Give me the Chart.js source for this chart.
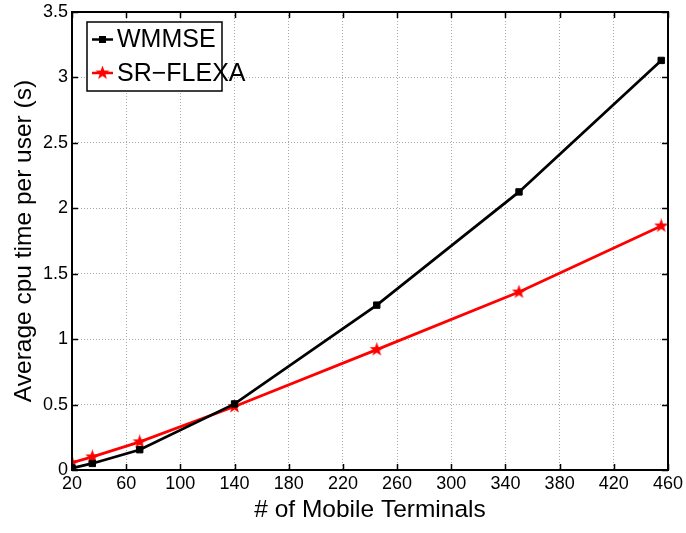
<!DOCTYPE html>
<html>
<head>
<meta charset="utf-8">
<script src="https://cdn.jsdelivr.net/npm/chart.js@4/dist/chart.umd.min.js"></script>
<style>
    html, body { margin: 0; padding: 0; background: #fff; }
    #wrap { width: 686px; height: 533px; }
</style>
</head>
<body>
<div id="wrap"><canvas id="cpu-chart" width="686" height="533"></canvas></div>
<script>
// --- datos ---
const terminals = [20, 35, 70, 140, 245, 350, 455];
const wmmseTime = [0.015, 0.05, 0.155, 0.505, 1.26, 2.125, 3.13];
const flexaTime = [0.055, 0.1, 0.215, 0.485, 0.92, 1.36, 1.865];
const seriesNames = ['WMMSE', 'SR\u2212FLEXA'];
const xTicks = [20, 60, 100, 140, 180, 220, 260, 300, 340, 380, 420, 460];
const yTicks = [0, 0.5, 1, 1.5, 2, 2.5, 3, 3.5];

const FONT = '"Liberation Sans", Arial, Helvetica, sans-serif';

// estrella rellena (pentagrama) como marcador
const makeStar = (color, size) => {
    const c = document.createElement('canvas');
    c.width = size; c.height = size;
    const g = c.getContext('2d');
    const cx = size / 2, cy = size / 2, outer = size / 2, inner = outer * 0.4;
    g.beginPath();
    for (let i = 0; i < 10; i++) {
        const r = i % 2 === 0 ? outer : inner;
        const a = -Math.PI / 2 + i * Math.PI / 5;
        const px = cx + r * Math.cos(a), py = cy + r * Math.sin(a);
        if (i === 0) g.moveTo(px, py); else g.lineTo(px, py);
    }
    g.closePath();
    g.fillStyle = color;
    g.fill();
    return c;
};
const starImg = makeStar('#ff0000', 15);

// marco estilo matlab con marcas hacia adentro + leyenda con recuadro
const framePlugin = {
    id: 'frame',
    afterDatasetsDraw(chart) {
        const { ctx, chartArea: a, scales } = chart;
        const tick = 6;
        ctx.save();
        ctx.strokeStyle = '#000';
        ctx.lineWidth = 1.5;
        ctx.beginPath();
        xTicks.forEach(v => {
            const px = Math.round(scales.x.getPixelForValue(v)) + 0.5;
            ctx.moveTo(px, a.bottom); ctx.lineTo(px, a.bottom - tick);
            ctx.moveTo(px, a.top); ctx.lineTo(px, a.top + tick);
        });
        yTicks.forEach(v => {
            const py = Math.round(scales.y.getPixelForValue(v)) + 0.5;
            ctx.moveTo(a.left, py); ctx.lineTo(a.left + tick, py);
            ctx.moveTo(a.right, py); ctx.lineTo(a.right - tick, py);
        });
        ctx.stroke();
        ctx.lineWidth = 2;
        ctx.strokeRect(a.left, a.top, a.right - a.left, a.bottom - a.top);
        ctx.restore();
    },
    afterDraw(chart) {
        const { ctx } = chart;
        const box = { x: 87, y: 22, w: 135, h: 69 };
        ctx.save();
        ctx.fillStyle = '#fff';
        ctx.fillRect(box.x, box.y, box.w, box.h);
        ctx.strokeStyle = '#000';
        ctx.lineWidth = 1.5;
        ctx.strokeRect(box.x, box.y, box.w, box.h);
        ctx.font = `25px ${FONT}`;
        ctx.textBaseline = 'middle';
        chart.data.datasets.forEach((ds, i) => {
            const y = 39.5 + i * 33.5;
            ctx.strokeStyle = ds.borderColor;
            ctx.lineWidth = 2.5;
            ctx.beginPath();
            ctx.moveTo(92, y); ctx.lineTo(113, y);
            ctx.stroke();
            if (ds.pointStyle === 'rect') {
                ctx.fillStyle = ds.borderColor;
                ctx.fillRect(99, y - 3.5, 7, 7);
            } else {
                ctx.drawImage(starImg, 102.5 - 7.5, y - 7.5);
            }
            ctx.fillStyle = '#000';
            ctx.fillText(ds.label, 117, y + 1);
        });
        ctx.restore();
    }
};

const ctx = document.getElementById('cpu-chart').getContext('2d');
new Chart(ctx, {
    type: 'line',
    data: {
        datasets: [
            {
                label: seriesNames[0],
                data: terminals.map((t, i) => ({ x: t, y: wmmseTime[i] })),
                borderColor: '#000000',
                backgroundColor: '#000000',
                borderWidth: 2.75,
                pointStyle: 'rect',
                pointRadius: 4.5,
                pointBorderWidth: 1,
                tension: 0
            },
            {
                label: seriesNames[1],
                data: terminals.map((t, i) => ({ x: t, y: flexaTime[i] })),
                borderColor: '#ff0000',
                backgroundColor: '#ff0000',
                borderWidth: 2.75,
                pointStyle: starImg,
                pointRadius: 7,
                tension: 0
            }
        ]
    },
    options: {
        responsive: false,
        animation: false,
        devicePixelRatio: 1,
        layout: { padding: { top: 12, right: 18, left: 0, bottom: 0 } },
        plugins: { legend: { display: false }, tooltip: { enabled: false } },
        scales: {
            x: {
                type: 'linear',
                min: 20,
                max: 460,
                afterBuildTicks: (scale) => { scale.ticks = xTicks.map(v => ({ value: v })); },
                afterFit: (scale) => { scale.height = 63; scale.paddingLeft = 0; scale.paddingRight = 0; },
                ticks: { color: '#000', padding: 3, maxRotation: 0, autoSkip: false, font: { family: FONT, size: 18 } },
                grid: { color: '#a8a8a8', lineWidth: 1, drawTicks: false },
                border: { display: false, dash: [1, 2] },
                title: {
                    display: true,
                    text: '# of Mobile Terminals',
                    color: '#000',
                    font: { family: FONT, size: 24.5 },
                    padding: { top: 8, bottom: 8 }
                }
            },
            y: {
                min: 0,
                max: 3.5,
                afterBuildTicks: (scale) => { scale.ticks = yTicks.map(v => ({ value: v })); },
                afterFit: (scale) => { scale.width = 72; scale.paddingTop = 0; scale.paddingBottom = 0; },
                ticks: {
                    color: '#000',
                    padding: 4,
                    font: { family: FONT, size: 18 },
                    callback: (value) => String(value)
                },
                grid: { color: '#a8a8a8', lineWidth: 1, drawTicks: false },
                border: { display: false, dash: [1, 2] },
                title: {
                    display: true,
                    text: 'Average cpu time per user (s)',
                    color: '#000',
                    font: { family: FONT, size: 24.5 },
                    padding: { top: 10, bottom: 10 }
                }
            }
        }
    },
    plugins: [framePlugin]
});
</script>
</body>
</html>
